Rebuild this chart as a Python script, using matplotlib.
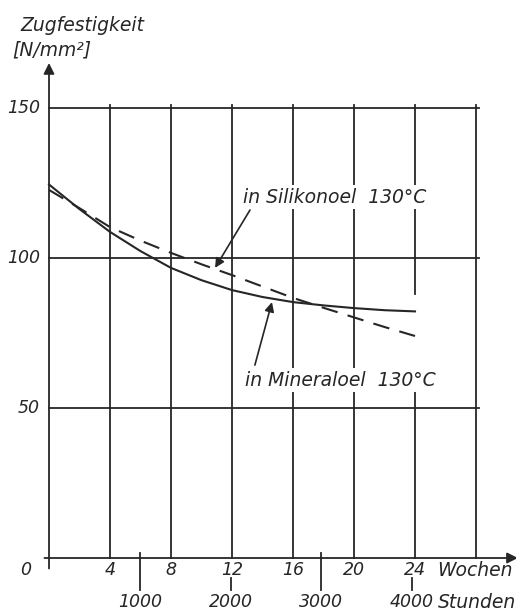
import numpy as np
import matplotlib
matplotlib.use("Agg")
import matplotlib.pyplot as plt

# Zugfestigkeit über der Alterungsdauer (Wochen), Messkurven
weeks = [0, 2, 4, 6, 8, 10, 12, 14, 16, 18, 20, 22, 24]
mineraloel = [124.5, 116.3, 108.7, 102.3, 96.7, 92.6, 89.3, 87.0, 85.3, 84.2, 83.3, 82.6, 82.2]
silikonoel = [122.7, 116.6, 110.3, 105.8, 101.7, 97.9, 94.3, 90.5, 86.7, 83.4, 80.2, 77.0, 74.0]

week_ticks = [4, 8, 12, 16, 20, 24]
grid_weeks = [4, 8, 12, 16, 20, 24, 28]
y_ticks = [50, 100, 150]
hour_ticks = [1000, 2000, 3000, 4000]
HOURS_PER_WEEK = 168

ink = "#262626"
plt.rcParams["font.family"] = "DejaVu Sans"
plt.rcParams["font.style"] = "italic"

fig = plt.figure(figsize=(5.16, 6.13), dpi=100)
W, H = 516, 613
# axes placed so that 0..28 Wochen / 0..150 N/mm² map onto the drawing frame
ax = fig.add_axes([49 / W, (H - 558) / H, (476 - 49) / W, 450 / H])
ax.set_xlim(0, 28)
ax.set_ylim(0, 150)
ax.axis("off")

lw = 1.3
# horizontal grid
for y in y_ticks:
    ax.plot([0, 28.2], [y, y], color=ink, lw=lw, clip_on=False, zorder=1)
# vertical grid, the 24-week line is left open around the curve ends
for x in grid_weeks:
    if x == 24:
        ax.plot([x, x], [0, 63], color=ink, lw=lw, clip_on=False, zorder=1)
        ax.plot([x, x], [88, 151], color=ink, lw=lw, clip_on=False, zorder=1)
    else:
        ax.plot([x, x], [0, 151], color=ink, lw=lw, clip_on=False, zorder=1)

# axes with arrows
ax.annotate("", xy=(30.75, 0), xytext=(-0.3, 0), annotation_clip=False,
            arrowprops=dict(arrowstyle="-|>", color=ink, lw=lw, mutation_scale=16,
                            shrinkA=0, shrinkB=0))
ax.annotate("", xy=(0, 165), xytext=(0, -3.5), annotation_clip=False,
            arrowprops=dict(arrowstyle="-|>", color=ink, lw=lw, mutation_scale=16,
                            shrinkA=0, shrinkB=0))

# curves
ax.plot(weeks, mineraloel, color=ink, lw=1.5, zorder=3, clip_on=False)
ax.plot(weeks, silikonoel, color=ink, lw=1.5, dashes=(8, 5), zorder=3, clip_on=False)

fs = 12.5      # numbers
fw = 13.5      # words

def px(x_px):
    # pixel column -> weeks
    return (x_px - 49) / 15.25

# y tick labels
for y in y_ticks:
    ax.text(-0.6, y, str(y), ha="right", va="center", fontsize=fs, color=ink, clip_on=False)
ax.text(-1.5, -4, "0", ha="center", va="center", fontsize=fs, color=ink)

# week tick labels
for x in week_ticks:
    ax.text(x, -4, str(x), ha="center", va="center", fontsize=fs, color=ink)
ax.text(px(437), -4, "Wochen", ha="left", va="center", fontsize=fw, color=ink)

# hour ticks and labels
for h in hour_ticks:
    xw = h / HOURS_PER_WEEK
    if h in (1000, 3000):
        ax.plot([xw, xw], [1.7, -10.7], color=ink, lw=lw, clip_on=False)
    else:
        ax.plot([xw, xw], [-6.7, -10.7], color=ink, lw=lw, clip_on=False)
    ax.text(xw, -14.7, str(h), ha="center", va="center", fontsize=fs, color=ink)
ax.text(px(438), -14.7, "Stunden", ha="left", va="center", fontsize=fw, color=ink)

# axis title
fig.text(20 / W, 1 - 31 / H, "Zugfestigkeit", ha="left", va="baseline", fontsize=fw, color=ink)
fig.text(12 / W, 1 - 55 / H, "[N/mm²]", ha="left", va="baseline", fontsize=fw, color=ink)

# curve labels with arrows
box = dict(facecolor="white", edgecolor="none", pad=2)
ax.text(px(243), 120.3, "in Silikonoel  130°C", ha="left", va="center",
        fontsize=fw, color=ink, bbox=box, zorder=2)
ax.text(px(245), 59.3, "in Mineraloel  130°C", ha="left", va="center",
        fontsize=fw, color=ink, bbox=box, zorder=2)
ax.annotate("", xy=(10.89, 96.7), xytext=(13.18, 116), annotation_clip=False,
            arrowprops=dict(arrowstyle="-|>", color=ink, lw=1.2, mutation_scale=14,
                            shrinkA=0, shrinkB=0), zorder=4)
ax.annotate("", xy=(14.62, 85.3), xytext=(13.5, 64.3), annotation_clip=False,
            arrowprops=dict(arrowstyle="-|>", color=ink, lw=1.2, mutation_scale=14,
                            shrinkA=0, shrinkB=0), zorder=4)

fig.savefig("out.png", dpi=100, facecolor="white")
